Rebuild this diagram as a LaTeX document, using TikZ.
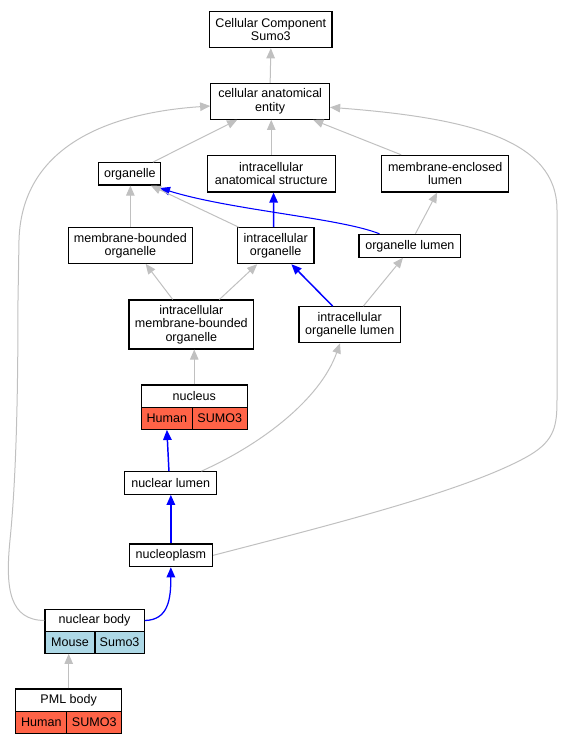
\documentclass[tikz,border=0pt]{standalone}
\usepackage{fontspec}
\setmainfont{Liberation Sans}
\usetikzlibrary{arrows.meta,calc}
\definecolor{edgegray}{RGB}{192,192,192}
\definecolor{tomatofill}{RGB}{255,99,71}
\definecolor{bluefill}{RGB}{173,216,230}
\tikzset{
  box/.style={draw=black, line width=0.8pt, fill=white, inner sep=0pt, align=center,
              font=\fontsize{9.4}{10}\selectfont},
  sz/.style 2 args={minimum width=#1*0.75pt, minimum height=#2*0.75pt},
  redcell/.style={box, fill=tomatofill},
  bluecell/.style={box, fill=bluefill},
  grayedge/.style={draw=edgegray, line width=0.75pt, -{Triangle[length=7.6pt,width=6.4pt]}},
  blueedge/.style={draw=blue, line width=1.1pt, -{Triangle[length=7.6pt,width=6.4pt]}},
  thinblue/.style={draw=blue, line width=0.8pt, -{Triangle[length=7.6pt,width=6.4pt]}},
}
\begin{document}
\begin{tikzpicture}[x=0.75pt,y=-0.75pt]
\useasboundingbox (0,0) rectangle (563,744);
% nodes
\node[box, sz={122.3}{36}] (cc) at (270.85,29.7) {Cellular Component\\Sumo3};
\node[box, sz={118.7}{36}] (cae) at (270.15,101.3) {cellular anatomical\\entity};
\node[box, sz={61.9}{22.3}] (org) at (129.85,173.85) {organelle};
\node[box, sz={128.1}{36.7}] (ias) at (271.25,173.65) {intracellular\\anatomical structure};
\node[box, sz={126.9}{36.7}] (mel) at (445.15,173.65) {membrane-enclosed\\lumen};
\node[box, sz={124.1}{35.6}] (mbo) at (130.35,245.5) {membrane-bounded\\organelle};
\node[box, sz={76.6}{36}] (io) at (275.7,245.7) {intracellular\\organelle};
\node[box, sz={101.8}{23}] (ol) at (409.9,245.8) {organelle lumen};
\node[box, sz={124.6}{49}] (imbo) at (191.3,324.5) {intracellular\\membrane-bounded\\organelle};
\node[box, sz={101.4}{36}] (iol) at (349.7,324.7) {intracellular\\organelle lumen};
% nucleus record
\node[box, sz={105.7}{22.3}] (nuch) at (194.25,396.15) {nucleus};
\node[redcell, sz={51}{22}] (nuchum) at (166.9,418.3) {Human};
\node[redcell, sz={54.7}{22}] (nucsumo) at (219.75,418.3) {SUMO3};
\node[box, sz={91.7}{22.6}] (nl) at (170.65,483) {nuclear lumen};
\node[box, sz={83.5}{22.7}] (np) at (170.85,555.35) {nucleoplasm};
% nuclear body record
\node[box, sz={99.2}{22.4}] (nbh) at (94.6,620.5) {nuclear body};
\node[bluecell, sz={50}{21.6}] (nbmouse) at (70,642.5) {Mouse};
\node[bluecell, sz={49.2}{21.6}] (nbsumo) at (119.6,642.5) {Sumo3};
% PML body record
\node[box, sz={105.8}{22.7}] (pmlh) at (68.7,700.35) {PML body};
\node[redcell, sz={51.1}{21.6}] (pmlhum) at (41.35,722.5) {Human};
\node[redcell, sz={54.7}{21.6}] (pmlsumo) at (94.25,722.5) {SUMO3};
% edges
\draw[thinblue] ($(ol.north)+(-30.5,0)$) .. controls (340,218) and (230,210) .. ($(org.south)+(30,2.5)$);
\draw[grayedge] (cae.north) -- (cc.south);
\draw[grayedge] ($(org.north)+(23,0)$) -- ($(cae.south)+(-33,0)$);
\draw[grayedge] (ias.north) -- (ias.north |- cae.south);
\draw[grayedge] ($(mel.north)+(-44,0)$) -- ($(cae.south)+(43,0)$);
\draw[grayedge] (mbo.north) -- (mbo.north |- org.south);
\draw[grayedge] ($(io.north)+(-37,0)$) -- ($(org.south)+(21,0)$);
\draw[blueedge] ($(io.north)+(-2,0)$) -- ($(ias.south)+(2.3,0)$);
\draw[grayedge] ($(ol.north)+(5.5,0)$) -- ($(mel.south)+(-8,0)$);
\draw[grayedge] ($(imbo.north)+(-18.6,0)$) -- ($(mbo.south)+(15.3,0)$);
\draw[grayedge] ($(imbo.north)+(28.1,0)$) -- ($(io.south)+(-18.5,0)$);
\draw[blueedge] ($(iol.north)+(-17,0)$) -- ($(io.south)+(15.7,0)$);
\draw[grayedge] ($(iol.north)+(13.6,0)$) -- ($(ol.south)+(-7,0)$);
\draw[grayedge] (nuch.north) -- (nuch.north |- imbo.south);
\draw[grayedge] ($(nl.north)+(30.7,0)$) .. controls (260,445) and (320,400) .. ($(iol.south)+(-9.7,0)$);
\draw[blueedge] ($(nl.north)+(-1.7,0)$) -- (nuchum.south);
\draw[blueedge] (np.north) -- (np.north |- nl.south);
\draw[blueedge, line width=0.95pt] (nbh.east) .. controls (168,620) and (170.9,600) .. (np.south);
\draw[grayedge] (pmlh.north) -- (pmlh.north |- nbmouse.south);
\draw[grayedge] (nbh.west) .. controls (10,620) and (5,590) .. (10,540)
   .. controls (16,480) and (18,400) .. (18,300) -- (19,240)
   .. controls (22,140) and (120,112) .. ($(cae.west)+(0,4.7)$);
\draw[grayedge] (np.east) .. controls (330,525) and (470,490) .. (530,455)
   .. controls (555,440) and (557,425) .. (557,400) -- (557,210)
   .. controls (557,140) and (470,118) .. ($(cae.east)+(0,6)$);
\end{tikzpicture}
\end{document}
